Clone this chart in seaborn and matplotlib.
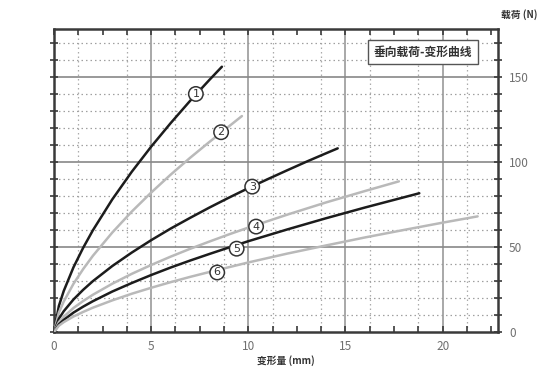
import numpy as np
import pandas as pd
import matplotlib
matplotlib.use("Agg")
import matplotlib.pyplot as plt
import seaborn as sns

# ---- data ----
x1 = [0, 0.25, 0.5, 1, 1.5, 2, 3, 4, 5, 6, 7, 8, 8.64]
y1 = [0, 15.3, 24.1, 38.0, 49.5, 59.8, 78.0, 94.2, 109.0, 122.8, 135.9, 148.3, 156.0]
x2 = [0, 0.25, 0.5, 1, 1.5, 2, 3, 4, 5, 6, 7, 8, 9, 9.67]
y2 = [0, 11.4, 17.9, 28.3, 37.0, 44.8, 58.5, 70.8, 82.0, 92.5, 102.4, 111.8, 120.9, 127.0]
x3 = [0, 0.25, 0.5, 1, 1.5, 2, 3, 4, 5, 6, 7, 8, 9, 10, 11, 12, 13, 14, 14.6]
y3 = [0, 7.8, 12.2, 19.1, 24.8, 29.9, 38.8, 46.7, 54.0, 60.8, 67.1, 73.2, 79.0, 84.6, 89.9, 95.1, 100.2, 105.1, 108.0]
x4 = [0, 0.25, 0.5, 1, 1.5, 2, 3, 4, 5, 6, 7, 8, 9, 10, 12, 14, 16, 17.75]
y4 = [0, 5.8, 9.0, 14.1, 18.2, 21.9, 28.4, 34.2, 39.4, 44.3, 48.9, 53.2, 57.4, 61.4, 69.0, 76.2, 82.9, 88.6]
x5 = [0, 0.25, 0.5, 1, 1.5, 2, 3, 4, 5, 6, 7, 8, 9, 10, 12, 14, 16, 18.8]
y5 = [0, 4.5, 7.1, 11.4, 14.9, 18.1, 23.8, 28.8, 33.5, 37.9, 42.0, 45.9, 49.7, 53.4, 60.3, 66.9, 73.2, 81.6]
x6 = [0, 0.25, 0.5, 1, 1.5, 2, 3, 4, 5, 6, 7, 8, 10, 12, 14, 16, 18, 20, 21.8]
y6 = [0, 3.7, 5.8, 9.1, 11.8, 14.3, 18.6, 22.5, 26.0, 29.3, 32.4, 35.3, 40.9, 46.1, 50.9, 55.6, 60.0, 64.3, 68.0]

curve_names = ["1", "2", "3", "4", "5", "6"]
label_x = [7.3, 8.6, 10.2, 10.4, 9.4, 8.4]
label_y = [140, 117.5, 85.5, 62, 49, 35]

x_ticks = [0, 5, 10, 15, 20]
y_ticks = [0, 50, 100, 150]
title_text = "垂向载荷-变形曲线"
x_label = "变形量 (mm)"
y_label = "载荷 (N)"

# ---- build long table ----
xs = [x1, x2, x3, x4, x5, x6]
ys = [y1, y2, y3, y4, y5, y6]
frames = []
for name, xx, yy in zip(curve_names, xs, ys):
    frames.append(pd.DataFrame({"x": xx, "y": yy, "curve": name}))
df = pd.concat(frames, ignore_index=True)

sns.set_style("white")
plt.rcParams['font.family'] = ['Noto Sans CJK SC', 'DejaVu Sans']

fig = plt.figure(figsize=(5.54, 3.78), dpi=100)
ax = fig.add_axes([54/554, 1-332/378, (498-54)/554, (332-29)/378])

dark = "#1c1c1c"
light = "#b9b9b9"
palette = {"1": dark, "2": light, "3": dark, "4": light, "5": dark, "6": light}

# grid
xmin, xmax = 0, 22.85
ymin, ymax = 0, 178.2
for gx in np.arange(1.25, xmax, 2.5):
    ax.axvline(gx, color="#ababab", lw=0.9, ls=(0, (1.2, 2.4)), zorder=0)
for gy in np.arange(10, ymax, 10):
    if gy % 50 != 0:
        ax.axhline(gy, color="#a0a0a0", lw=0.9, ls=(0, (1.2, 2.4)), zorder=0)
for gx in [5, 10, 15, 20]:
    ax.axvline(gx, color="#999999", lw=1.2, zorder=0)
for gy in [50, 100, 150]:
    ax.axhline(gy, color="#888888", lw=1.2, zorder=0)

sns.lineplot(data=df, x="x", y="y", hue="curve", palette=palette,
             linewidth=1.8, legend=False, sort=False, ax=ax, zorder=3)

for name, lx, ly in zip(curve_names, label_x, label_y):
    ax.text(lx, ly, name, ha="center", va="center", fontsize=8, color="#333333",
            family=["DejaVu Sans"], zorder=5,
            bbox=dict(boxstyle="circle,pad=0.2", fc="white", ec="#333333", lw=1.1))

ax.set_xlim(xmin, xmax)
ax.set_ylim(ymin, ymax)

# spines
for s in ax.spines.values():
    s.set_color("#3a3a3a")
    s.set_linewidth(1.8)
    s.set_visible(True)

ax.set_xticks(x_ticks)
ax.set_xticklabels([str(t) for t in x_ticks])
ax.set_xticks(np.arange(0, xmax, 1.25), minor=True)
ax.set_yticks(y_ticks)
ax.set_yticklabels([str(t) for t in y_ticks])
ax.set_yticks(np.arange(0, ymax, 10), minor=True)

ax.yaxis.tick_right()
ax.tick_params(axis="x", which="both", direction="in", top=True, bottom=True,
               length=4, width=1.2, color="#3a3a3a", labelsize=8.5,
               labelcolor="#707070", pad=6)
ax.tick_params(axis="y", which="both", direction="inout", left=True, right=True,
               length=6, width=1.2, color="#3a3a3a", labelsize=8.5,
               labelcolor="#707070", pad=5)
ax.tick_params(axis="y", labelleft=False, labelright=True)
ax.set_xlabel("")
ax.set_ylabel("")

fig.text(286/554, 1-361/378, x_label, ha="center", va="center", fontsize=7,
         fontweight="bold", color="#333333")
fig.text(519/554, 1-15/378, y_label, ha="center", va="center", fontsize=7,
         fontweight="bold", color="#333333")
ax.text((423-54)/444, 1-(52-29)/303, title_text, transform=ax.transAxes,
        ha="center", va="center", fontsize=8.5, fontweight="bold", color="#333333",
        zorder=6,
        bbox=dict(boxstyle="square,pad=0.5", fc="white", ec="#555555", lw=1.0))

fig.savefig("out.png", dpi=100)
